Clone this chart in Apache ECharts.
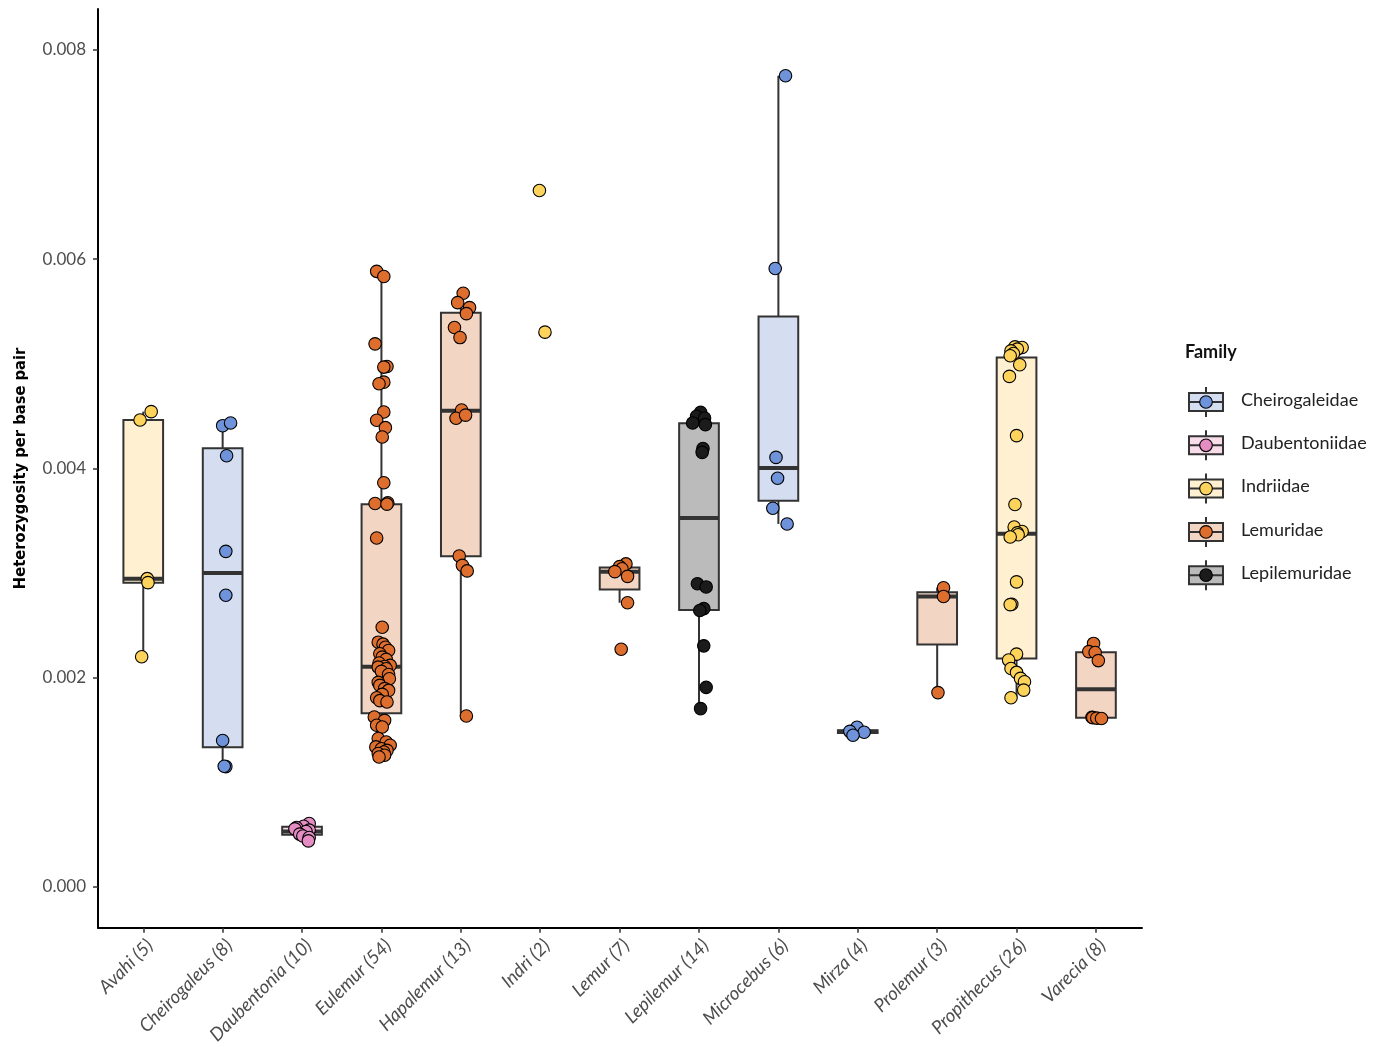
<!DOCTYPE html>
<html>
<head>
<meta charset="utf-8">
<script src="https://cdn.jsdelivr.net/npm/echarts@6/dist/echarts.min.js"></script>
<style>
html,body{margin:0;padding:0;background:#fff;}
#chart{width:1383px;height:1047px;}
</style>
</head>
<body>
<div id="chart"></div>
<script>
// ---------------- DATA ----------------
const genera = ['Avahi','Cheirogaleus','Daubentonia','Eulemur','Hapalemur','Indri','Lemur','Lepilemur','Microcebus','Mirza','Prolemur','Propithecus','Varecia'];
const counts = [5,8,10,54,13,2,7,14,6,4,3,26,8];
const genusFamily = ['Indriidae','Cheirogaleidae','Daubentoniidae','Lemuridae','Lemuridae','Indriidae','Lemuridae','Lepilemuridae','Cheirogaleidae','Cheirogaleidae','Lemuridae','Indriidae','Lemuridae'];
const families = ['Cheirogaleidae','Daubentoniidae','Indriidae','Lemuridae','Lepilemuridae'];
const pointColors = ['#6F93DA','#E58DC2','#FDD35C','#DE6E2D','#1B1B1B'];
const boxColors = ['#D4DEF0','#F9DCEA','#FEF0D0','#F2D5C3','#BBBBBB'];
const yTicks = [0, 0.002, 0.004, 0.006, 0.008];

// box statistics per genus (heterozygosity per kb): [lower whisker, Q1, median, Q3, upper whisker]
const boxStatsPerKb = [
  [2.200, 2.908, 2.946, 4.462, 4.542],
  [1.150, 1.336, 3.000, 4.193, 4.434],
  [0.440, 0.499, 0.530, 0.574, 0.606],
  [1.242, 1.659, 2.104, 3.658, 5.883],
  [1.634, 3.159, 4.551, 5.488, 5.673],
  null,
  [2.716, 2.842, 3.013, 3.053, 3.087],
  [1.704, 2.646, 3.526, 4.432, 4.535],
  [3.469, 3.691, 4.003, 5.452, 7.752],
  [1.449, 1.471, 1.483, 1.497, 1.526],
  [1.857, 2.316, 2.775, 2.817, 2.859],
  [1.808, 2.184, 3.375, 5.059, 5.161],
  [1.609, 1.617, 1.889, 2.242, 2.327]
];

// individual samples (heterozygosity per kb)
const pointValuesPerKb = [
  [4.462, 4.542, 2.946, 2.908, 2.200],
  [4.408, 4.434, 4.121, 3.207, 2.787, 1.399, 1.150, 1.153],
  [0.606, 0.580, 0.568, 0.555, 0.543, 0.530, 0.505, 0.487, 0.473, 0.440],
  [5.883,5.833,5.190,4.974,4.968,4.824,4.809,4.539,4.460,4.389,4.300,3.862,3.671,3.664,3.658,3.334,
   2.482,2.339,2.320,2.291,2.260,2.228,2.196,2.175,2.140,2.117,2.107,
   2.101,2.085,2.060,2.030,1.990,1.955,1.926,1.895,1.878,1.840,1.808,1.780,1.767,
   1.624,1.592,1.545,1.528,1.418,1.385,1.354,1.338,1.320,1.305,1.289,1.275,1.258,1.242],
  [5.673,5.584,5.536,5.479,5.346,5.250,4.558,4.479,4.509,3.163,3.073,3.020,1.634],
  [6.656, 5.302],
  [3.087, 3.061, 3.040, 3.013, 2.968, 2.716, 2.271],
  [4.535,4.498,4.481,4.434,4.418,4.190,4.153,2.898,2.867,2.660,2.642,2.304,1.907,1.704],
  [7.752, 5.910, 4.105, 3.905, 3.619, 3.469],
  [1.526, 1.487, 1.478, 1.449],
  [2.859, 2.775, 1.857],
  [5.161,5.155,5.140,5.123,5.098,5.076,4.990,4.879,4.313,3.655,3.439,3.397,3.384,3.366,3.344,
   2.915,2.702,2.698,2.225,2.168,2.088,2.050,1.993,1.961,1.881,1.808],
  [2.327, 2.249, 2.240, 2.163, 1.622, 1.618, 1.613, 1.609]
];

// horizontal jitter of each sample (fraction of one category step)
const pointJitter = [
  [-0.04, 0.10, 0.05, 0.06, -0.02],
  [0.00, 0.10, 0.05, 0.04, 0.04, 0.00, 0.04, 0.02],
  [0.09, 0.02, -0.07, -0.09, 0.09, 0.05, -0.03, 0.01, 0.09, 0.08],
  [-0.06,0.03,-0.08,0.07,0.03,0.03,-0.03,0.03,-0.06,0.05,0.01,0.03,0.08,-0.08,0.07,-0.06,
   0.01,-0.04,0.02,0.05,0.09,-0.02,0.01,0.06,-0.03,0.11,0.04,
   -0.04,0.06,0.00,0.09,0.10,-0.04,-0.02,0.04,0.09,0.01,-0.06,-0.02,0.07,
   -0.09,0.04,-0.06,0.01,-0.04,0.06,0.11,-0.07,0.00,0.07,0.03,-0.04,0.04,-0.03],
  [0.03,-0.04,0.11,0.07,-0.08,-0.01,0.01,-0.06,0.06,-0.02,0.02,0.08,0.07],
  [-0.01, 0.06],
  [0.08, 0.00, 0.03, -0.06, 0.10, 0.10, 0.02],
  [0.02,-0.03,0.07,-0.08,0.08,0.05,0.04,-0.02,0.09,0.06,0.01,0.06,0.09,0.02],
  [0.09, -0.04, -0.03, -0.01, -0.07, 0.11],
  [-0.01, -0.10, 0.08, -0.06],
  [0.08, 0.08, 0.01],
  [-0.02,0.07,0.01,-0.07,-0.04,-0.08,0.04,-0.09,0.00,-0.02,-0.03,0.07,0.01,0.02,-0.08,
   0.00,-0.06,-0.08,0.00,-0.10,-0.07,0.00,0.05,0.10,0.09,-0.07],
  [-0.03, -0.09, -0.01, 0.03, -0.05, -0.04, 0.01, 0.07]
];

// ---------------- BUILD ----------------
const toBp = v => v / 1000;
const famIdx = f => families.indexOf(f);

const boxData = [];
boxStatsPerKb.forEach((s, i) => {
  if (!s) return;
  boxData.push([i, toBp(s[0]), toBp(s[1]), toBp(s[2]), toBp(s[3]), toBp(s[4]), famIdx(genusFamily[i])]);
});

const scatterByFamily = families.map(() => []);
pointValuesPerKb.forEach((vals, i) => {
  const f = famIdx(genusFamily[i]);
  vals.forEach((v, k) => {
    scatterByFamily[f].push([i + pointJitter[i][k], toBp(v)]);
  });
});

function renderBox(params, api) {
  const i = api.value(0);
  const pLo = api.coord([i, api.value(1)]);
  const pQ1 = api.coord([i, api.value(2)]);
  const pMed = api.coord([i, api.value(3)]);
  const pQ3 = api.coord([i, api.value(4)]);
  const pHi = api.coord([i, api.value(5)]);
  const f = api.value(6);
  const w = api.size([0.5, 0])[0];
  const x = pMed[0];
  const stroke = '#333333';
  return {
    type: 'group',
    children: [
      {type: 'line', shape: {x1: x, y1: pHi[1], x2: x, y2: pQ3[1]}, style: {stroke, lineWidth: 2}},
      {type: 'line', shape: {x1: x, y1: pQ1[1], x2: x, y2: pLo[1]}, style: {stroke, lineWidth: 2}},
      {type: 'rect', shape: {x: x - w / 2, y: pQ3[1], width: w, height: pQ1[1] - pQ3[1]},
        style: {fill: boxColors[f], stroke, lineWidth: 2}},
      {type: 'line', shape: {x1: x - w / 2, y1: pMed[1], x2: x + w / 2, y2: pMed[1]},
        style: {stroke, lineWidth: 4}}
    ]
  };
}

const series = [{
  type: 'custom',
  renderItem: renderBox,
  data: boxData,
  encode: {x: 0, y: [1, 2, 3, 4, 5]},
  z: 2,
  silent: true
}];
families.forEach((fam, f) => {
  series.push({
    type: 'scatter',
    name: fam,
    data: scatterByFamily[f],
    symbol: 'circle',
    symbolSize: 12.5,
    itemStyle: {color: pointColors[f], borderColor: '#000', borderWidth: 1.1, opacity: 1},
    z: 5,
    silent: true
  });
});

// legend drawn as graphic glyphs (box + whisker + point)
const legendGraphics = [{
  type: 'text', left: 1185, top: 343,
  style: {text: 'Family', font: 'bold 18px Lato, "Open Sans", sans-serif', fill: '#111'}
}];
families.forEach((fam, f) => {
  const cy = 402 + f * 43.3;
  const cx = 1206;
  legendGraphics.push(
    {type: 'line', shape: {x1: cx, y1: cy - 15, x2: cx, y2: cy + 15}, style: {stroke: '#333', lineWidth: 2}},
    {type: 'rect', shape: {x: cx - 17, y: cy - 9, width: 34, height: 18}, style: {fill: boxColors[f], stroke: '#333', lineWidth: 2}},
    {type: 'line', shape: {x1: cx - 17, y1: cy, x2: cx + 17, y2: cy}, style: {stroke: '#333', lineWidth: 2}},
    {type: 'circle', shape: {cx: cx, cy: cy, r: 6.3}, style: {fill: pointColors[f], stroke: '#000', lineWidth: 1.1}},
    {type: 'text', x: 1241, y: cy - 2, style: {text: fam, font: '18px Lato, "Open Sans", sans-serif', fill: '#222', verticalAlign: 'middle'}}
  );
});

const xTickValues = genera.map((g, i) => i);

const option = {
  animation: false,
  backgroundColor: '#ffffff',
  grid: {left: 98, right: 241, top: 9, bottom: 117, containLabel: false},
  xAxis: {
    type: 'value', min: -0.57, max: 12.58,
    splitLine: {show: false},
    axisLine: {show: true, onZero: false, lineStyle: {color: '#000', width: 2}},
    axisTick: {show: true, customValues: xTickValues, length: 5, lineStyle: {color: '#333', width: 1.5}},
    axisLabel: {
      show: true, customValues: xTickValues, rotate: 45, margin: 8,
      align: 'right', verticalAlign: 'top',
      formatter: v => genera[Math.round(v)] + ' (' + counts[Math.round(v)] + ')',
      fontStyle: 'italic', fontSize: 18.5, color: '#4d4d4d', fontFamily: 'Lato, "Open Sans", sans-serif'
    }
  },
  yAxis: {
    type: 'value', min: -0.00039, max: 0.00839,
    name: 'Heterozygosity per base pair', nameLocation: 'middle', nameGap: 69, nameRotate: 90,
    nameTextStyle: {fontWeight: 'bold', fontSize: 16.4, color: '#000', fontFamily: '"Liberation Sans Narrow", "DejaVu Sans Condensed", Lato, sans-serif'},
    splitLine: {show: false},
    axisLine: {show: true, onZero: false, lineStyle: {color: '#000', width: 2}},
    axisTick: {show: true, customValues: yTicks, length: 5, lineStyle: {color: '#333', width: 1.5}},
    axisLabel: {
      show: true, customValues: yTicks, margin: 12,
      formatter: v => v.toFixed(3),
      fontSize: 17, color: '#4d4d4d', fontFamily: 'Lato, "Open Sans", sans-serif'
    }
  },
  graphic: legendGraphics,
  series: series
};

const chart = echarts.init(document.getElementById('chart'), null, {renderer: 'canvas'});
chart.setOption(option);
</script>
</body>
</html>
